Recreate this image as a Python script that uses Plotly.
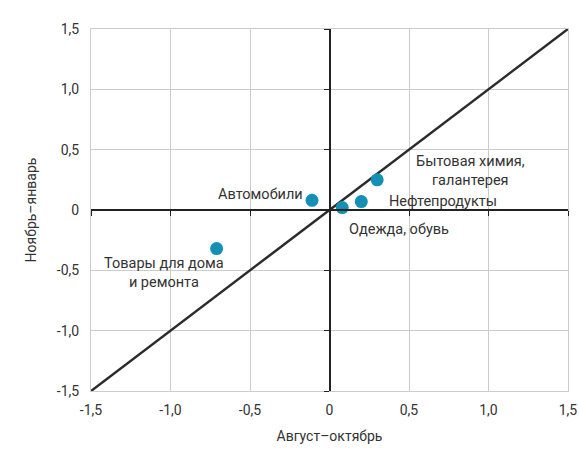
import plotly.graph_objects as go

# Значения: август–октябрь (x) и ноябрь–январь (y)
categories = ["Автомобили", "Одежда, обувь", "Нефтепродукты",
              "Бытовая химия,<br>галантерея", "Товары для дома<br>и ремонта"]
aug_oct = [-0.11, 0.08, 0.20, 0.30, -0.71]
nov_jan = [0.08, 0.02, 0.07, 0.25, -0.32]

diag = [-1.5, 1.5]
tick_vals = [-1.5, -1.0, -0.5, 0, 0.5, 1.0, 1.5]
tick_text = ["-1,5", "-1,0", "-0,5", "0", "0,5", "1,0", "1,5"]

FONT = "Roboto"
TXT = "#333333"

fig = go.Figure()

# Диагональ y = x
fig.add_trace(
    go.Scatter(
        x=diag, y=diag, mode="lines",
        line=dict(color="#2b2b2b", width=2.5),
        hoverinfo="skip", showlegend=False,
    )
)

# Точки
fig.add_trace(
    go.Scatter(
        x=aug_oct, y=nov_jan, mode="markers",
        marker=dict(color="#1590b5", size=13),
        text=categories, showlegend=False, cliponaxis=False,
    )
)

# Подписи точек (смещения в пикселях)
offsets = [
    (-52, 6),
    (57, -22),
    (82, 0),
    (93, 9),
    (-53, -24),
]
for name, xv, yv, (ax, ay) in zip(categories, aug_oct, nov_jan, offsets):
    fig.add_annotation(
        x=xv, y=yv, text=name, showarrow=False,
        xshift=ax, yshift=ay, align="center",
        font=dict(family=FONT, size=14.5, color=TXT),
    )

fig.update_layout(
    width=579, height=454,
    margin=dict(l=91, r=11, t=29, b=63),
    plot_bgcolor="#FFFFFF", paper_bgcolor="#FFFFFF",
    font=dict(family=FONT, size=14, color=TXT),
    xaxis=dict(
        range=[-1.5, 1.5], tickvals=tick_vals, ticktext=tick_text,
        showgrid=True, gridcolor="#CCCCCC", gridwidth=1,
        zeroline=False, showline=True, linecolor="#CCCCCC", mirror=True,
        ticks="", ticklabelstandoff=6, automargin=False,
        title=dict(text="Август–октябрь", standoff=14,
                   font=dict(family=FONT, size=14, color=TXT)),
    ),
    yaxis=dict(
        range=[-1.5, 1.5], tickvals=tick_vals, ticktext=tick_text,
        showgrid=True, gridcolor="#CCCCCC", gridwidth=1,
        zeroline=False, showline=True, linecolor="#CCCCCC", mirror=True,
        ticks="", ticklabelstandoff=8, automargin=False,
        title=dict(text="Ноябрь–январь", standoff=16,
                   font=dict(family=FONT, size=14, color=TXT)),
    ),
    # оси через ноль с засечками
    xaxis2=dict(
        overlaying="x", matches="x", anchor="free", position=0.5,
        range=[-1.5, 1.5], tickvals=tick_vals,
        showline=True, linecolor="#222222", linewidth=1.5,
        ticks="outside", ticklen=5, tickcolor="#222222",
        showticklabels=False, showgrid=False, zeroline=False,
        automargin=False,
    ),
    yaxis2=dict(
        overlaying="y", matches="y", anchor="free", position=0.5,
        range=[-1.5, 1.5], tickvals=tick_vals,
        showline=True, linecolor="#222222", linewidth=1.5,
        ticks="outside", ticklen=5, tickcolor="#222222",
        showticklabels=False, showgrid=False, zeroline=False,
        automargin=False,
    ),
)

# невидимый след, чтобы отрисовать вторые оси
fig.add_trace(
    go.Scatter(x=[0], y=[0], xaxis="x2", yaxis="y2", mode="markers",
               marker=dict(opacity=0), hoverinfo="skip", showlegend=False)
)

# убираем отступ страницы, чтобы график занял окно целиком
fig.write_html(
    "out.html",
    config={"displayModeBar": False},
    post_script="document.body.style.margin='0';",
)
